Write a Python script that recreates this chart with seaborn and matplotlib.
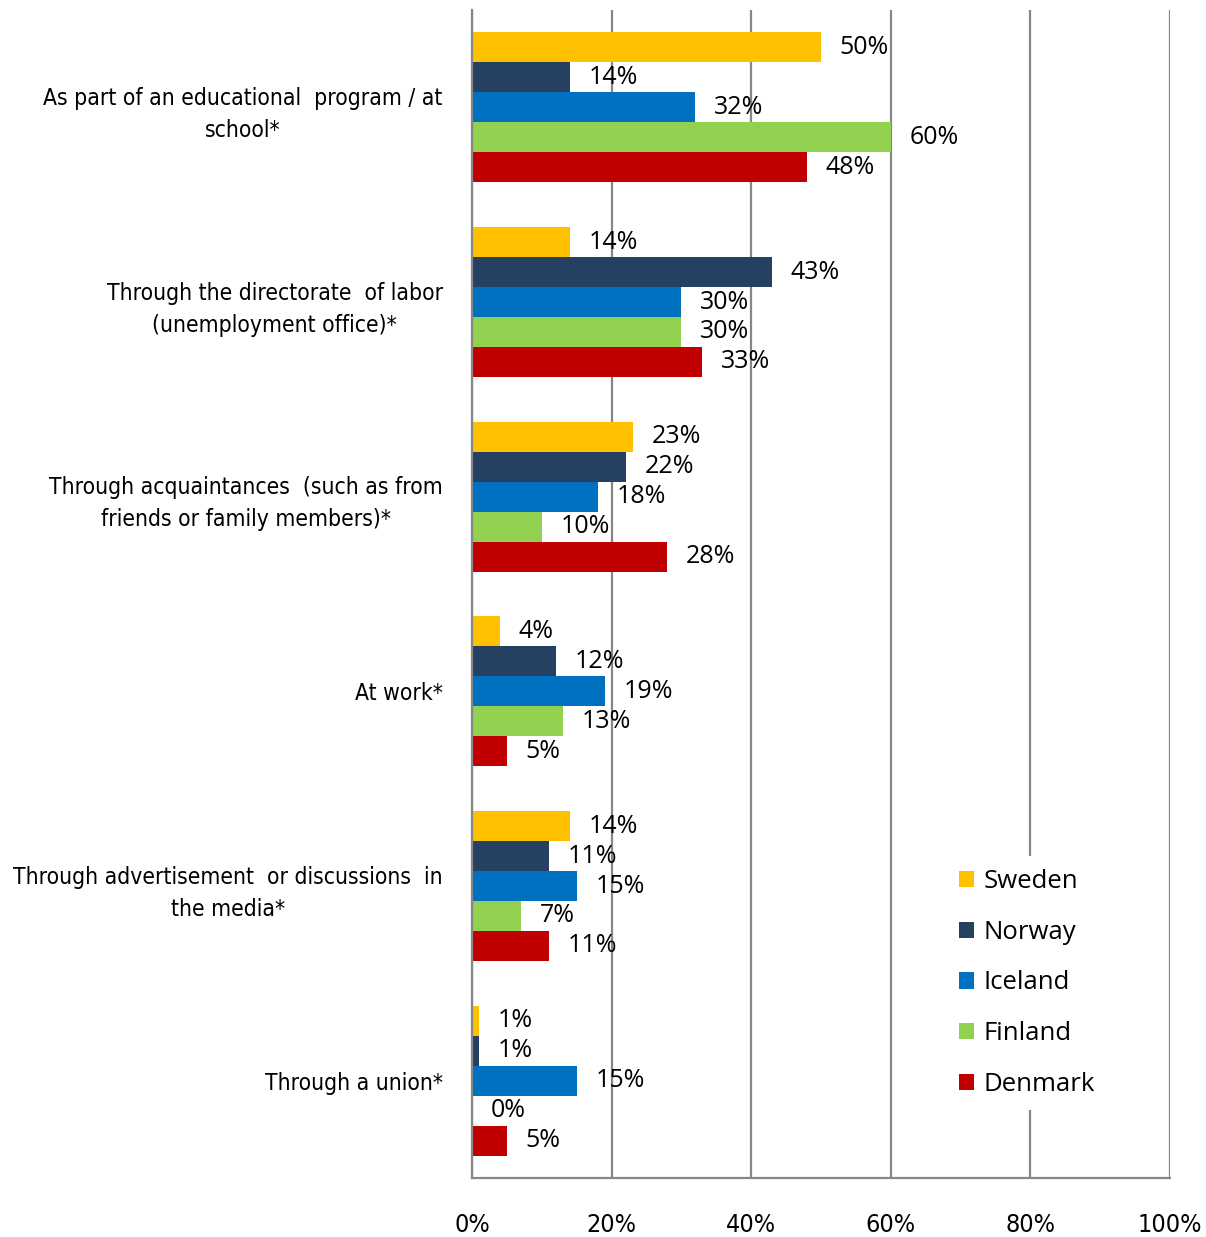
import numpy as np
import pandas as pd
import matplotlib
matplotlib.use("Agg")
import matplotlib.pyplot as plt
from matplotlib import font_manager as fm
from matplotlib.patches import Patch
import seaborn as sns

# --- data ---------------------------------------------------------------
categories = [
    "As part of an educational  program / at\nschool*",
    "Through the directorate  of labor\n(unemployment office)*",
    "Through acquaintances  (such as from\nfriends or family members)*",
    "At work*",
    "Through advertisement  or discussions  in\nthe media*",
    "Through a union*",
]
countries = ["Sweden", "Norway", "Iceland", "Finland", "Denmark"]
sweden = [50, 14, 23, 4, 14, 1]
norway = [14, 43, 22, 12, 11, 1]
iceland = [32, 30, 18, 19, 15, 15]
finland = [60, 30, 10, 13, 7, 0]
denmark = [48, 33, 28, 5, 11, 5]
x_ticks = [0, 20, 40, 60, 80, 100]
x_tick_labels = ["0%", "20%", "40%", "60%", "80%", "100%"]

colors = ["#FFC000", "#254061", "#0070C0", "#92D050", "#C00000"]

series = [sweden, norway, iceland, finland, denmark]
df = pd.DataFrame(
    [
        {"category": cat, "country": c, "value": v}
        for c, vals in zip(countries, series)
        for cat, v in zip(categories, vals)
    ]
)

# --- fonts --------------------------------------------------------------
sns.set_style("white")
plt.rcParams.update({"text.color": "black", "xtick.labelcolor": "black",
                     "ytick.labelcolor": "black"})
fonts = fm.fontManager.ttflist
available = {f.name for f in fonts}
has_dejavu_cond = any(f.name == "DejaVu Sans" and "Condensed" in f.fname
                      for f in fonts)
if "Liberation Sans Narrow" in available:
    narrow = dict(fontfamily="Liberation Sans Narrow", fontstretch="normal")
    cat_size, tick_size = 18, 18
elif has_dejavu_cond:
    narrow = dict(fontfamily="DejaVu Sans", fontstretch="condensed")
    cat_size, tick_size = 16.4, 18
else:
    narrow = dict(fontfamily="Liberation Sans", fontstretch="normal")
    cat_size, tick_size = 16, 17
label_font = "Open Sans" if "Open Sans" in available else "DejaVu Sans"
plt.rcParams["font.family"] = [label_font, "DejaVu Sans"]

# --- figure -------------------------------------------------------------
W, H = 1206, 1237
fig = plt.figure(figsize=(W / 100, H / 100), dpi=100)
ax = fig.add_axes([472 / W, 1 - 1178 / H, 698 / W, 1168 / H])

sns.barplot(
    data=df, x="value", y="category", hue="country", orient="h",
    palette=colors, hue_order=countries, order=categories,
    width=0.77, saturation=1, linewidth=0, legend=False, ax=ax,
)

ax.set_xlim(0, 100)
ax.set_ylim(5.5, -0.5)
ax.set_xlabel("")
ax.set_ylabel("")

grid_color = "#878787"
ax.set_xticks(x_ticks)
ax.set_xticklabels(x_tick_labels, fontsize=tick_size, color="black", **narrow)
ax.xaxis.grid(True, color=grid_color, linewidth=1.6)
ax.set_axisbelow(True)
ax.tick_params(axis="x", direction="out", length=6.5, width=1.4,
               color=grid_color, pad=19)

ax.set_yticks(np.arange(len(categories)))
ax.set_yticklabels(categories, fontsize=cat_size, ha="right", color="black",
                   multialignment="center", linespacing=1.5, **narrow)
ax.set_yticks(np.arange(-0.5, len(categories)), minor=True)
ax.tick_params(axis="y", which="major", length=0, pad=21)
ax.tick_params(axis="y", which="minor", direction="out", length=6.5,
               width=1.4, color=grid_color)

for side in ["top", "right"]:
    ax.spines[side].set_visible(False)
for side in ["left", "bottom"]:
    ax.spines[side].set_color(grid_color)
    ax.spines[side].set_linewidth(1.6)

# value labels
for cont, vals in zip(ax.containers, series):
    ax.bar_label(cont, labels=[f"{v}%" for v in vals], padding=13.5,
                 fontsize=18, color="black", zorder=5)

handles = [Patch(facecolor=c, edgecolor="none", label=n)
           for c, n in zip(colors, countries)]
leg = ax.legend(
    handles=handles, loc="center", bbox_to_anchor=(0.795, 0.167),
    frameon=True, facecolor="white", edgecolor="none", framealpha=1,
    fontsize=18.5, handlelength=0.6, handleheight=0.6, handletextpad=0.35,
    labelspacing=1.0, borderpad=0.5, fancybox=False, labelcolor="black",
)

fig.savefig("out.png", dpi=100)
